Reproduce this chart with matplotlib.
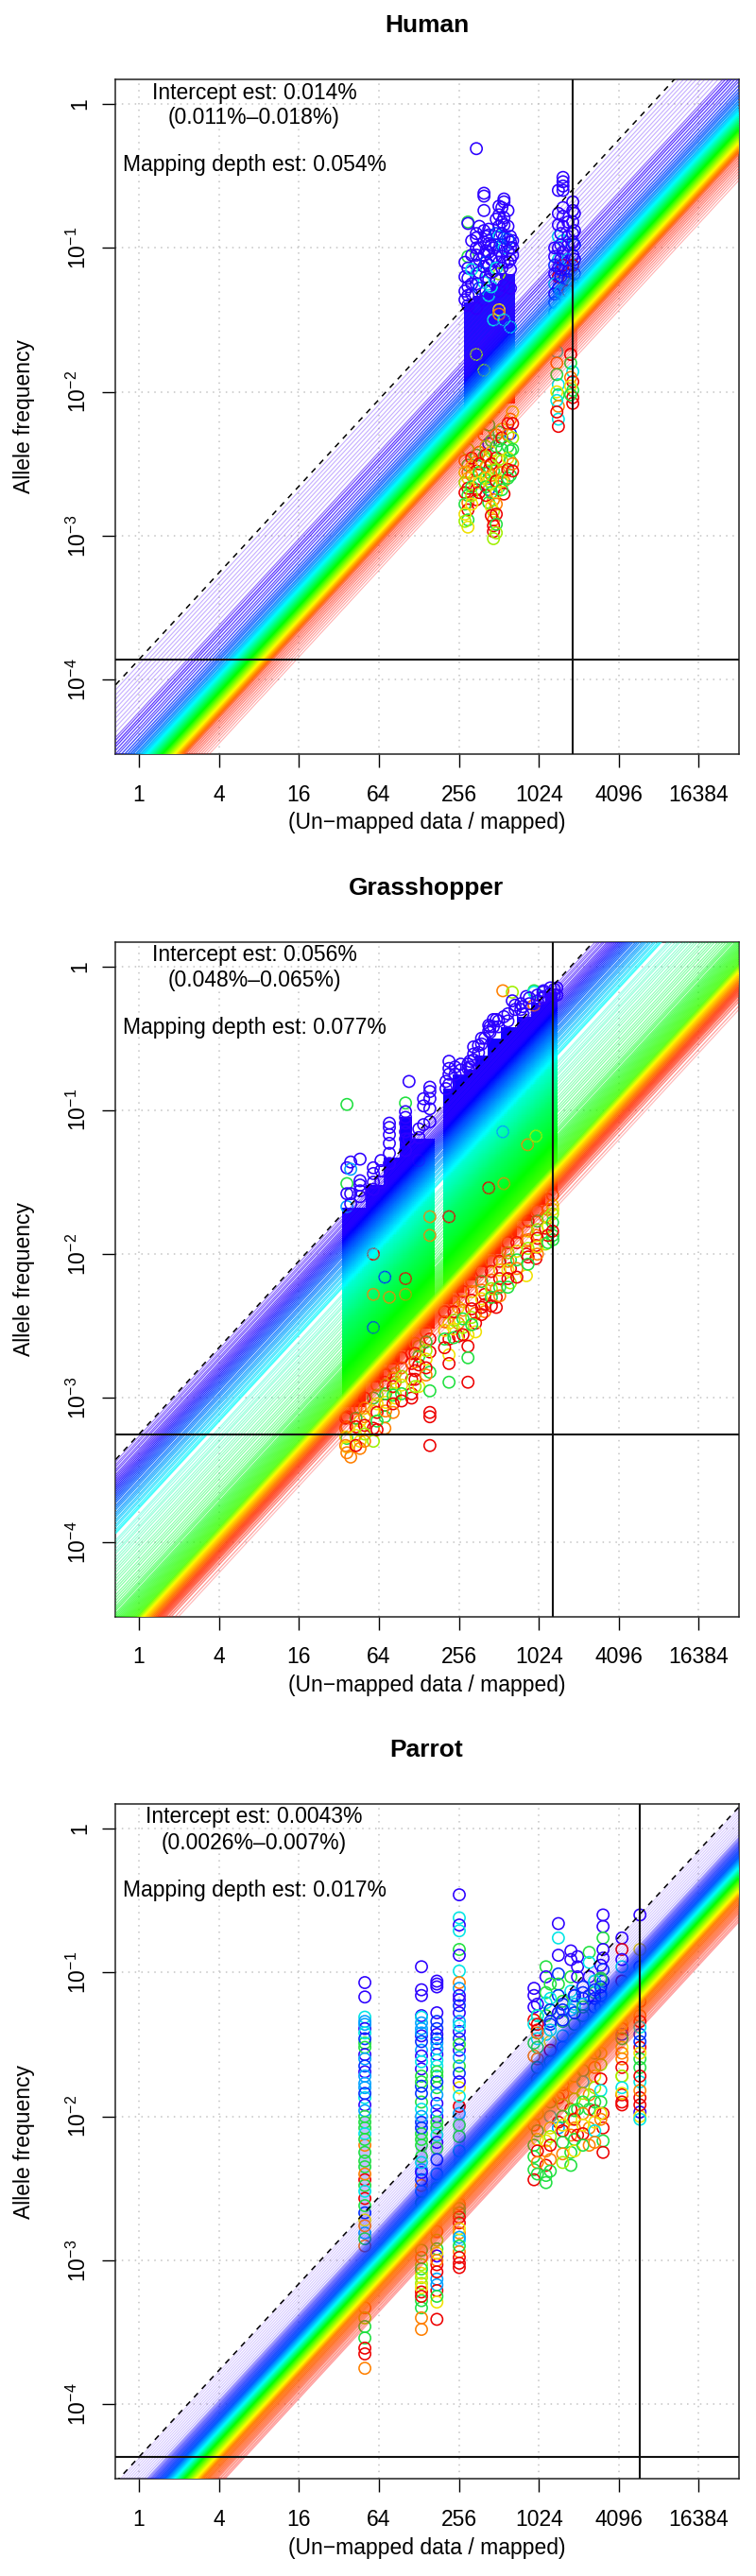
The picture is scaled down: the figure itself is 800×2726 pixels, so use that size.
import colorsys
import numpy as np
import matplotlib
matplotlib.use('Agg')
import matplotlib.pyplot as plt

plt.rcParams['font.family'] = ['Liberation Sans', 'DejaVu Sans']
plt.rcParams['mathtext.default'] = 'regular'

panel_titles = ['Human', 'Grasshopper', 'Parrot']
x_ticks = [1, 4, 16, 64, 256, 1024, 4096, 16384]
y_ticks = [1e-4, 1e-3, 1e-2, 1e-1, 1]
y_tick_labels = ['$10^{-4}$', '$10^{-3}$', '$10^{-2}$', '$10^{-1}$', '1']

intercepts = [1.38e-4, 5.6e-4, 4.3e-5]
depth_marks = [1850, 1300, 5900]
intercept_text = ['Intercept est: 0.014%', 'Intercept est: 0.056%', 'Intercept est: 0.0043%']
range_text = ['(0.011%\u20130.018%)', '(0.048%\u20130.065%)', '(0.0026%\u20130.007%)']
depth_text = ['Mapping depth est: 0.054%', 'Mapping depth est: 0.077%', 'Mapping depth est: 0.017%']

# variant lines, log10 distance below the dashed line
human_lines = [0.035, 0.07, 0.1, 0.135, 0.165, 0.2, 0.23, 0.265, 0.295, 0.33, 0.365, 0.385, 0.41, 0.43, 0.455,
               0.48, 0.5, 0.525, 0.55, 0.572, 0.592, 0.61, 0.632, 0.651, 0.672, 0.69, 0.705, 0.718, 0.731,
               0.743, 0.755, 0.767, 0.779, 0.791, 0.803, 0.815, 0.827, 0.839, 0.851, 0.863, 0.875, 0.887, 0.899,
               0.911, 0.923, 0.935, 0.947, 0.959, 0.971, 0.983, 0.995, 1.01, 1.028, 1.046, 1.064, 1.082, 1.102,
               1.122, 1.142, 1.163, 1.186]
grass_lines = [0.015, 0.035, 0.05, 0.07, 0.085, 0.105, 0.12, 0.135, 0.15, 0.165, 0.18, 0.195, 0.21, 0.225, 0.24,
               0.255, 0.27, 0.285, 0.30, 0.32, 0.335, 0.35, 0.37, 0.385, 0.40, 0.42, 0.435, 0.455, 0.47, 0.49,
               0.505, 0.515, 0.56, 0.575, 0.595, 0.62, 0.64, 0.655, 0.68, 0.70, 0.72, 0.745, 0.765, 0.785, 0.81,
               0.83, 0.85, 0.875, 0.895, 0.915, 0.94, 0.96, 0.98, 1.0, 1.02, 1.035, 1.05, 1.07, 1.085, 1.1, 1.115,
               1.13, 1.145, 1.16, 1.175, 1.19, 1.205, 1.22, 1.235, 1.25, 1.262, 1.274, 1.286, 1.298, 1.31, 1.322,
               1.334, 1.346, 1.358, 1.37, 1.382, 1.396, 1.41, 1.425, 1.44, 1.455, 1.47, 1.49, 1.51, 1.54, 1.565]
parrot_lines = [0.012, 0.03, 0.05, 0.07, 0.09, 0.11, 0.13, 0.15, 0.17, 0.19, 0.21, 0.222,
                0.235, 0.246, 0.258, 0.27, 0.281, 0.293, 0.305, 0.316, 0.328, 0.34, 0.35, 0.36, 0.37, 0.38, 0.39,
                0.4, 0.41, 0.42, 0.43, 0.44, 0.45, 0.46, 0.47, 0.48, 0.49, 0.5, 0.51, 0.52, 0.53, 0.54, 0.55,
                0.56, 0.57, 0.58, 0.59, 0.6, 0.61, 0.62, 0.63, 0.642, 0.655, 0.668, 0.68, 0.695, 0.71, 0.725,
                0.74, 0.76, 0.78, 0.797]

# rainbow position, opacity and width along the fan
human_stops = [0, 0.33, 0.40, 0.5, 0.55, 0.62, 0.72, 0.84, 0.93, 0.97, 1.02, 1.19]
human_hue = [0.715, 0.715, 0.70, 0.68, 0.64, 0.6, 0.5, 0.33, 0.17, 0.1, 0.02, 0.0]
human_alpha = [0.32, 0.32, 0.8, 0.65, 0.75, 0.85, 1, 1, 1, 1, 0.6, 0.3]
human_width = [1.1, 1.1, 1.3, 1.3, 1.5, 1.8, 2.3, 2.4, 2.4, 2.4, 1.5, 1.1]
grass_stops = [0, 0.155, 0.27, 0.51, 0.55, 0.8, 1.0, 1.25, 1.31, 1.42, 1.57]
grass_hue = [0.71, 0.69, 0.62, 0.5, 0.47, 0.4, 0.36, 0.29, 0.16, 0.03, 0.0]
grass_alpha = [0.5, 0.8, 0.85, 0.72, 0.4, 0.45, 0.5, 0.8, 1, 0.8, 0.25]
grass_width = [1.1, 1.3, 1.4, 1.3, 1.1, 1.1, 1.3, 2.0, 2.4, 2.0, 1.2]
parrot_stops = [0, 0.175, 0.35, 0.425, 0.5, 0.59, 0.63, 0.8]
parrot_hue = [0.715, 0.70, 0.61, 0.5, 0.33, 0.16, 0.08, 0.0]
parrot_alpha = [0.2, 0.24, 0.9, 1, 1, 1, 0.8, 0.35]
parrot_width = [1.0, 1.1, 2.2, 2.4, 2.4, 2.4, 2.2, 1.6]

# solid parts of the clouds, too dense to read one by one: x edges and log10 top / bottom per cell
human_core_x = [279, 330, 390, 450, 520, 680, 1307, 2005]
human_core_top = [-1.38, -1.33, -1.30, -1.25, -1.18, -1.05, -1.07]
human_core_bot = [-2.35, -2.30, -2.22, -2.15, -2.08, -2.00, -1.72]
human_core_alpha = [0.95, 0.95, 0.95, 0.95, 0.95, 0.0, 0.35]
grass_core_x = [33.9, 51, 70, 92, 114, 169, 196, 230, 280, 340, 420, 530, 700, 900, 1150, 1419]
grass_core_top = [-1.68, -1.52, -1.33, -1.05, -1.20, -1.21, -0.85, -0.75, -0.72, -0.62, -0.50, -0.42, -0.35, -0.25, -0.18]
grass_core_bot = [-3.06, -2.89, -2.77, -2.67, -2.52, -2.45, -2.35, -2.27, -2.18, -2.09, -2.0, -1.88, -1.77, -1.66, -1.56]
grass_core_alpha = [1, 1, 1, 1, 1, 0, 1, 1, 1, 1, 1, 1, 1, 1, 1]
parrot_core_x = [45.5, 55.5, 122, 148, 158, 192, 234, 286]
parrot_core_top = [-2.0, -2.0, -2.0, -2.0, -2.0, -2.0, -1.9]
parrot_core_bot = [-2.85, -2.85, -2.85, -2.85, -2.85, -2.85, -2.6]
parrot_core_alpha = [0.25, 0.0, 0.25, 0.0, 0.25, 0.0, 0.25]

# single circles: x of each column, log10 allele frequency, colour band of each circle
human_x = [300, 347, 396, 430, 467, 514, 560, 626, 1438, 1558, 1846,
           285, 320, 365, 410, 450, 490, 540, 600, 650,
           285, 320, 365, 410, 450, 490, 540, 600, 650,
           1350, 1500, 1700, 1900, 1400, 1780]
human_y = [[-0.82, -0.83, -1.06, -1.14, -1.21, -1.27, -1.33, -1.40, -2.40, -2.51, -2.56, -2.60, -2.67, -2.72, -2.77, -2.82, -2.89, -2.94],
           [-0.31, -0.90, -0.93, -1.00, -1.05, -1.12, -1.18, -1.25, -1.42, -1.74, -2.44, -2.49, -2.55, -2.62, -2.68, -2.75],
           [-0.62, -0.64, -0.74, -0.88, -0.96, -1.05, -1.13, -1.24, -1.36, -1.85, -2.30, -2.45, -2.60],
           [-0.87, -0.91, -0.97, -1.03, -1.12, -1.22, -1.33, -2.23, -2.36, -2.47, -2.56, -2.62, -2.68, -2.77],
           [-1.0, -1.16, -1.5, -2.55, -2.75, -2.83, -2.89, -2.93, -2.97, -3.02],
           [-0.71, -0.77, -0.85, -0.92, -1.02, -1.10, -1.18, -1.30, -1.43, -1.46, -2.28, -2.34, -2.47, -2.56, -2.66],
           [-0.66, -0.68, -0.79, -0.84, -0.93, -1.0, -1.10, -1.26, -1.50, -2.62, -2.71],
           [-0.92, -0.96, -1.0, -1.08, -1.15, -1.28, -1.55, -2.19, -2.29, -2.41, -2.48, -2.58],
           [-0.60, -0.76, -0.84, -0.92, -1.0, -1.08, -1.14, -1.2, -1.28, -1.95, -2.02, -2.10, -2.19, -2.24],
           [-0.51, -0.54, -0.57, -0.60, -0.72, -0.78, -0.85, -0.95, -1.03, -1.12, -1.22, -1.32],
           [-0.68, -0.74, -0.82, -0.9, -0.96, -1.05, -1.12, -1.25, -1.86, -1.93, -1.99, -2.04, -2.08],
           [-2.48, -2.56, -2.63, -2.7, -2.78, -2.85, -2.9],
           [-2.46, -2.52, -2.58, -2.66, -2.72, -2.78],
           [-2.42, -2.5, -2.56, -2.63, -2.7],
           [-2.38, -2.44, -2.52, -2.6, -2.66, -2.72],
           [-2.34, -2.42, -2.5, -2.58, -2.64, -2.7, -2.8, -2.86],
           [-2.3, -2.38, -2.46, -2.54, -2.62, -2.7, -2.78, -2.85, -2.92, -2.98],
           [-2.26, -2.32, -2.4, -2.48, -2.56, -2.62, -2.68],
           [-2.22, -2.3, -2.38, -2.46, -2.54, -2.6],
           [-2.14, -2.22, -2.32, -2.4, -2.5, -2.55],
           [-1.1, -1.2, -1.3, -1.36],
           [-0.95, -1.05, -1.15, -1.25, -1.32],
           [-0.85, -1.0, -1.08, -1.17, -1.28],
           [-0.92, -1.02, -1.1, -1.2, -1.3],
           [-0.98, -1.08, -1.17, -1.27],
           [-0.8, -0.9, -0.98, -1.06, -1.14, -1.22],
           [-0.72, -0.82, -0.9, -0.98, -1.06, -1.14],
           [-0.74, -0.85, -0.94, -1.02, -1.1],
           [-0.95, -1.0, -1.05],
           [-1.0, -1.06, -1.12, -1.18, -1.25, -1.32, -1.38, -1.45],
           [-0.9, -0.98, -1.08, -1.15, -1.2, -1.3, -1.42],
           [-0.82, -0.92, -0.98, -1.08, -1.16, -1.22, -1.3, -1.4],
           [-0.76, -0.88, -0.98, -1.08, -1.18, -1.28, -1.36],
           [-1.72, -1.8, -1.88, -2.0, -2.06, -2.14],
           [-1.74, -1.8, -1.9, -1.96, -2.02]]
human_c = ['gvgvvvvvlgoyrgorgy', 'vvvvvvcvvlgyrorr', 'vvvvvvvcvlogg', 'vvvvvvcgvlgybg', 'vvcgolorrl',
           'vvvcvvlvyogglog', 'vvvvvcvvcor', 'vvvvvvcobggg', 'vvvcvcvrbcgocr', 'vvvvvvvcvroc', 'vvvvvvrgcrgrr',
           'oylrgyl', 'ryogly', 'orgyr', 'lroygr', 'gyrolgyr', 'ogrlryorgl', 'yrgloyg', 'rogyrg', 'yrlgor',
           'vvvv', 'vvcvv', 'vvvvb', 'vvbvv', 'vvvc', 'vbvvcv', 'vvvbvv', 'vvbvv', 'vvv',
           'vvbvcvbb', 'vvvbvcv', 'vvvcvvrb', 'vvbvvcv', 'cogycr', 'rgoyg']

grass_x = [36.8, 39.3, 46.2, 58.2, 66.4, 71, 76.8, 85, 101.6, 108, 113, 128, 139, 155, 216, 254, 300, 331, 342,
           402, 430, 466, 490, 549, 559, 626, 647, 776, 826, 843, 943, 975, 1113, 1150, 1307, 1340,
           36, 43, 50, 62, 72, 82, 95, 120, 145, 200, 235, 275, 320, 380, 450, 520, 600, 700, 850, 1000, 1200, 1300,
           205, 240, 265, 310, 360, 380, 440, 510, 600, 680, 750, 870, 1000, 1100, 1250, 1400]
grass_y = [[-0.96, -1.40, -1.51, -1.58, -1.67, -3.13, -3.20, -3.28, -3.34, -3.38],
           [-1.36, -1.41, -1.58, -1.65, -3.41],
           [-1.34, -1.49, -1.52, -1.56, -1.60, -3.07, -3.16, -3.22, -3.30, -3.35],
           [-1.40, -1.44, -1.50, -1.55, -2.0, -2.28, -2.51, -3.00, -3.09, -3.21, -3.30],
           [-1.35, -1.42, -1.5],
           [-2.16, -2.83, -2.89, -3.05, -3.13, -3.21],
           [-1.09, -1.12, -1.17, -1.23, -1.30, -1.37, -2.30],
           [-2.83, -2.89, -2.97, -3.00],
           [-0.95, -1.01, -1.05, -1.09, -1.15, -1.20, -1.28, -2.17, -2.28],
           [-0.80, -1.2],
           [-2.69, -2.76, -2.87, -2.97, -3.00],
           [-1.13, -1.19, -1.35, -2.64, -2.71, -2.77, -2.92],
           [-0.92, -0.97, -1.1],
           [-0.84, -0.87, -0.92, -0.99, -1.08, -1.74, -1.87, -2.59, -2.68, -2.82, -2.95, -3.10, -3.13, -3.33],
           [-0.66, -0.71, -0.75, -0.82, -1.74, -2.48, -2.59, -2.70, -2.76, -2.89],
           [-2.37, -2.48, -2.57],
           [-0.68, -0.71, -2.56, -2.64, -2.72, -2.89],
           [-0.56, -0.61, -0.65],
           [-2.41, -2.48, -2.54],
           [-0.50, -2.28, -2.35, -2.40],
           [-0.41, -0.45, -1.54],
           [-0.37, -0.42],
           [-0.37, -2.24, -2.30, -2.37],
           [-0.17, -1.15],
           [-0.35, -1.51],
           [-2.04, -2.10, -2.20],
           [-0.18, -0.24],
           [-0.28, -0.33],
           [-0.21, -1.91, -2.0, -2.15],
           [-1.24],
           [-0.17, -0.18, -0.27],
           [-1.18, -1.87, -1.94, -2.03],
           [-0.17, -0.21],
           [-1.74, -1.82, -1.93],
           [-1.69, -1.87, -1.90],
           [-0.16, -0.2],
           [-3.14, -3.21, -3.27, -3.33],
           [-3.07, -3.14, -3.2, -3.26, -3.33],
           [-3.0, -3.07, -3.13, -3.19, -3.25, -3.3],
           [-2.91, -2.98, -3.04, -3.10, -3.16, -3.22],
           [-2.84, -2.91, -2.97, -3.03, -3.09],
           [-2.79, -2.86, -2.92, -2.98, -3.04, -3.1],
           [-2.72, -2.79, -2.85, -2.91, -2.97, -3.02],
           [-2.62, -2.69, -2.75, -2.81, -2.87, -2.92],
           [-2.54, -2.61, -2.67, -2.73, -2.79, -2.84],
           [-2.40, -2.47, -2.53, -2.59, -2.65],
           [-2.33, -2.4, -2.46, -2.52, -2.58],
           [-2.26, -2.33, -2.39, -2.45, -2.51, -2.56],
           [-2.19, -2.26, -2.32, -2.38, -2.44, -2.49],
           [-2.12, -2.19, -2.25, -2.31, -2.37, -2.42],
           [-2.05, -2.12, -2.18, -2.24, -2.30, -2.36],
           [-1.98, -2.05, -2.11, -2.17, -2.23, -2.29],
           [-1.92, -1.99, -2.05, -2.11, -2.17, -2.23],
           [-1.85, -1.92, -1.98, -2.04, -2.1, -2.16],
           [-1.77, -1.84, -1.9, -1.96, -2.02, -2.07],
           [-1.70, -1.77, -1.83, -1.89, -1.95, -2.0],
           [-1.62, -1.69, -1.75, -1.81, -1.87, -1.92],
           [-1.59, -1.66, -1.72, -1.78, -1.84],
           [-0.8, -0.85], [-0.7, -0.75], [-0.72, -0.68], [-0.66, -0.7], [-0.55, -0.6], [-0.5, -0.54],
           [-0.46, -0.42], [-0.42, -0.38], [-0.33, -0.38], [-0.3, -0.27], [-0.26, -0.3], [-0.22, -0.26],
           [-0.2, -0.24], [-0.18, -0.22], [-0.15, -0.19], [-0.15, -0.2]]
grass_c = ['gvgvarogyo', 'vavvo', 'vvvvvoyyyo', 'vvvvrobgyrl', 'vvv', 'borrgo', 'vvvvvvo', 'loly', 'gvvvvvvro',
           'vv', 'rrrrr', 'vvvlgry', 'vvv', 'vvvvvoorrggrrr', 'vvvvryryrg', 'yor', 'vvyrgr', 'vvv', 'ory', 'vrro',
           'vvr', 'vv', 'vorr', 'oa', 'vo', 'grl', 'lv', 'vv', 'vory', 'o', 'gco', 'lorr', 'vv', 'orl', 'ygg', 'vv',
           'royo', 'ogryr', 'ryorlo', 'olyrgr', 'rlgyo', 'oyrgro', 'rolygr', 'yrorrl', 'oglyro', 'roygr', 'orlyg',
           'ryoglr', 'oyrrlg', 'rgoyrr', 'yrolgr', 'oryrgo', 'rloyrg', 'orygor', 'ryolrg', 'oglryo', 'rolyrg', 'oylgr',
           'vv', 'vv', 'vv', 'vv', 'vv', 'vv', 'vv', 'vv', 'vv', 'vv', 'vv', 'vv', 'vv', 'vv', 'vv', 'vv']

parrot_x = [50.2, 134, 175, 258, 943, 1160, 1438, 1786, 2005, 2455, 3120, 4330, 5914,
            50.2, 134, 175, 258,
            1000, 1250, 1550, 1900, 2200, 2700, 3000, 4330, 5914,
            1000, 1250, 1550, 1900, 2200, 2700, 3000]
parrot_y = [[-1.07, -1.17, -1.31, -1.34, -1.39, -1.49, -1.57, -1.69, -1.77, -1.87, -1.92, -2.0, -2.08, -2.20, -2.31, -2.44, -2.48, -2.57, -2.67, -2.81, -2.90, -3.33, -3.40, -3.46, -3.54, -3.61, -3.65, -3.75],
            [-0.96, -1.12, -1.16, -1.30, -1.31, -1.39, -1.44, -1.54, -1.67, -1.72, -1.79, -1.90, -1.95, -2.04, -2.12, -2.28, -2.37, -2.39, -2.48, -2.93, -3.03, -3.09, -3.16, -3.22, -3.28, -3.33, -3.40, -3.48],
            [-1.06, -1.08, -1.10, -1.28, -1.39, -1.43, -1.49, -1.57, -1.65, -1.72, -1.80, -1.91, -2.0, -2.08, -2.18, -2.80, -2.92, -2.97, -3.03, -3.13, -3.21, -3.29, -3.41],
            [-0.46, -0.62, -0.67, -0.71, -0.84, -0.88, -0.99, -1.07, -1.11, -1.19, -1.28, -1.41, -1.54, -1.65, -1.80, -1.93, -2.61, -2.67, -2.74, -2.81, -2.86, -2.94, -3.02, -3.05],
            [-1.11, -1.16, -1.24, -1.33, -1.36, -1.49, -1.58, -2.06, -2.20, -2.28, -2.37, -2.44],
            [-0.96, -1.03, -1.14, -1.21, -1.30, -1.43, -2.17, -2.24, -2.34, -2.41, -2.46],
            [-0.66, -0.76, -0.88, -1.01, -1.08, -1.16, -1.28, -1.87, -2.04, -2.08],
            [-0.85, -0.91, -1.03, -1.13, -1.26, -1.95, -2.02, -2.13, -2.25, -2.34],
            [-0.89, -0.96, -1.03, -1.95, -2.13],
            [-0.86, -0.93, -1.03, -1.16, -1.85, -1.95, -2.08, -2.20],
            [-0.60, -0.68, -0.76, -0.84, -0.90, -0.98, -1.06, -1.98, -2.08, -2.17, -2.25],
            [-0.76, -0.84, -0.91, -1.39, -1.43, -1.52, -1.60, -1.72, -1.85, -1.92],
            [-0.60, -0.84, -1.30, -1.34, -1.43, -1.52, -1.60, -1.76, -1.87, -1.97, -2.0],
            [-1.36, -1.42, -1.46, -1.52, -1.6, -1.65, -1.72, -1.8, -1.84, -1.96, -2.04, -2.12, -2.16, -2.25, -2.35, -2.4, -2.52, -2.62, -2.72, -2.76, -2.85],
            [-1.35, -1.42, -1.48, -1.58, -1.62, -1.76, -1.84, -2.0, -2.08, -2.16, -2.2, -2.32, -2.44, -2.52, -2.6, -2.98, -3.06, -3.12, -3.19, -3.25],
            [-1.34, -1.46, -1.53, -1.61, -1.69, -1.76, -1.85, -1.96, -2.04, -2.13, -2.22, -2.3, -2.4, -2.5, -2.86, -2.95, -3.0, -3.08, -3.17, -3.25],
            [-1.16, -1.23, -1.34, -1.37, -1.46, -1.5, -1.59, -1.7, -1.76, -1.86, -1.98, -2.06, -2.14, -2.24, -2.36, -2.48, -2.64, -2.7, -2.78, -2.84, -2.9, -2.98],
            [-1.22, -1.3, -1.4, -1.46, -1.52, -1.6, -1.66, -1.74, -1.82, -1.98, -2.1, -2.16, -2.24, -2.32, -2.4],
            [-1.08, -1.18, -1.26, -1.36, -1.48, -1.54, -1.62, -1.72, -1.9, -2.0, -2.08, -2.14, -2.2, -2.3, -2.38],
            [-1.22, -1.34, -1.44, -1.52, -1.6, -1.68, -1.78, -1.84, -1.92, -2.0, -2.06, -2.1, -2.18, -2.26, -2.32],
            [-1.16, -1.24, -1.36, -1.46, -1.56, -1.64, -1.72, -1.8, -1.88, -1.96, -2.02, -2.08, -2.16, -2.24],
            [-1.14, -1.22, -1.3, -1.42, -1.5, -1.58, -1.68, -1.76, -1.84, -1.9, -1.98, -2.06, -2.12, -2.2],
            [-1.06, -1.14, -1.24, -1.34, -1.46, -1.56, -1.66, -1.72, -1.8, -1.9, -1.96, -2.04, -2.1, -2.18],
            [-0.95, -1.05, -1.14, -1.24, -1.34, -1.44, -1.56, -1.64, -1.74, -1.82, -1.9, -1.98, -2.02],
            [-0.96, -1.06, -1.2, -1.28, -1.36, -1.46, -1.56, -1.66, -1.72, -1.8, -1.84, -1.9],
            [-0.96, -1.08, -1.2, -1.38, -1.48, -1.56, -1.66, -1.72, -1.82, -1.92, -2.02],
            [-1.3, -1.36, -1.42],
            [-1.26, -1.34, -1.4],
            [-1.2, -1.26, -1.33],
            [-1.16, -1.22, -1.28],
            [-1.1, -1.18, -1.24],
            [-1.06, -1.12, -1.18],
            [-1.04, -1.1, -1.16]]
parrot_c = ['vvcavgvvacvggogrgrbaoolggrro', 'vvvvcavavgbgcbggavoglylrggoo', 'vvvvbvavcggvvgvogvraryr',
            'vcvcgvcoavvvvgyrogrocorr', 'vvvrcgoogggr', 'gvgcgcyorgg', 'vcvbgbvrra', 'vvgcaryogg', 'vvvgr',
            'gcvvogoo', 'vvgvvbbrrgr', 'vrvrbyoyrr', 'vyorbrgcrvy',
            'acbgabaabagcgggocgyog', 'aabvcgbabggcbagoglyr', 'bbacgbaagcgbaglyoragy', 'vbacbgabvcaggcolgryagr',
            'vgrcgogorlgyrog', 'gcgbyrgogcylrog', 'bgcabgrolgyrgol', 'vcgyorgylgrogyl', 'bcgyrogclgoyrg',
            'cgbyrgoylgrycog', 'vgcbogylrcgyog', 'crovygorlcyrg', 'vorcbygrorco', 'crogbyrgcoyr',
            'bbc', 'gbb', 'bcb', 'bbg', 'cbb', 'gbb', 'bcb']

band_colors = {'v': '#2c00ff', 'b': '#0030ff', 'a': '#00a0ff', 'c': '#00e5e5', 'g': '#20e040',
               'l': '#a0f000', 'y': '#f0e000', 'o': '#ff8000', 'r': '#ee0000'}


def rainbow(hue):
    return colorsys.hsv_to_rgb(hue, 1, 1)


def draw_core(ax, core_x, top, bot, alphas, k, stops, hues):
    # colour of the solid cloud follows the distance from the dashed line, like the fan
    for i in range(len(core_x) - 1):
        if alphas[i] == 0:
            continue
        xe = np.geomspace(core_x[i], core_x[i + 1], 13)
        ye = np.linspace(bot[i], top[i], 121)
        xm = np.sqrt(xe[:-1] * xe[1:])
        ym = 0.5 * (ye[:-1] + ye[1:])
        d = np.log10(k) + np.log10(xm)[None, :] - ym[:, None]
        h = np.minimum(np.interp(d, stops, hues), 0.68)
        rgba = np.zeros(h.shape + (4,))
        for r in range(h.shape[0]):
            for c in range(h.shape[1]):
                rgba[r, c, :3] = rainbow(h[r, c])
        rgba[:, :, 3] = alphas[i]
        ax.pcolormesh(xe, 10.0 ** ye, rgba, zorder=2, shading='flat', linewidth=0, rasterized=True)


all_lines = [human_lines, grass_lines, parrot_lines]
all_stops = [human_stops, grass_stops, parrot_stops]
all_hue = [human_hue, grass_hue, parrot_hue]
all_alpha = [human_alpha, grass_alpha, parrot_alpha]
all_width = [human_width, grass_width, parrot_width]
all_core = [(human_core_x, human_core_top, human_core_bot, human_core_alpha),
            (grass_core_x, grass_core_top, grass_core_bot, grass_core_alpha),
            (parrot_core_x, parrot_core_top, parrot_core_bot, parrot_core_alpha)]
all_x = [human_x, grass_x, parrot_x]
all_y = [human_y, grass_y, parrot_y]
all_c = [human_c, grass_c, parrot_c]

W, H = 800, 2726
fig = plt.figure(figsize=(W / 100, H / 100), dpi=100)
xlim = (0.668, 32768)
ylim = (3.04e-5, 1.483)
tops = [84, 996.5, 1909]

for p in range(3):
    top = tops[p]
    ax = fig.add_axes([122.4 / W, 1 - (top + 714) / H, (781.7 - 122.4) / W, 714 / H])
    ax.set_xscale('log', base=2)
    ax.set_yscale('log')
    ax.set_xlim(xlim)
    ax.set_ylim(ylim)
    ax.minorticks_off()

    ax.set_xticks(x_ticks)
    ax.set_xticklabels([str(t) for t in x_ticks], fontsize=16.5)
    ax.set_yticks(y_ticks)
    ax.set_yticklabels(y_tick_labels, fontsize=16.5, rotation=90, va='center')
    ax.tick_params(axis='x', length=10, width=1, pad=13, which='major')
    ax.tick_params(axis='y', length=10, width=1, pad=9, which='major')
    ax.grid(True, color='#c4c4c4', linestyle=(0, (1, 3.5)), linewidth=1.1, zorder=1)
    ax.set_axisbelow(True)
    for s in ax.spines.values():
        s.set_linewidth(1.1)
        s.set_color('#222222')

    k = intercepts[p]
    core_x, core_top, core_bot, core_alpha = all_core[p]
    draw_core(ax, core_x, core_top, core_bot, core_alpha, k, all_stops[p], all_hue[p])

    # circles
    for cx, cy, cc in zip(all_x[p], all_y[p], all_c[p]):
        cols = [band_colors[cc[i % len(cc)]] for i in range(len(cy))]
        ax.scatter([cx] * len(cy), 10.0 ** np.array(cy), s=78, facecolors='none', edgecolors=cols,
                   linewidths=1.15, zorder=3)

    # fan of variant lines, blue side drawn first
    ends = np.array(xlim)
    for d in all_lines[p]:
        hue = np.interp(d, all_stops[p], all_hue[p])
        alpha = np.interp(d, all_stops[p], all_alpha[p])
        lw = np.interp(d, all_stops[p], all_width[p])
        ax.plot(ends, k * 10.0 ** (-d) * ends, color=rainbow(hue), alpha=alpha, linewidth=lw * 0.72,
                zorder=4, solid_capstyle='butt')

    ax.plot(ends, k * ends, color='black', linestyle=(0, (4, 4)), linewidth=1.1, zorder=5)
    ax.axhline(k, color='#111111', linewidth=1.5, zorder=6)
    ax.axvline(depth_marks[p], color='#111111', linewidth=1.5, zorder=6)

    fig.text(451.5 / W, 1 - (top - 57) / H, panel_titles[p], fontsize=19, fontweight='bold', ha='center', va='center')
    fig.text(269 / W, 1 - (top + 14) / H, intercept_text[p], fontsize=16.5, ha='center', va='center')
    fig.text(269 / W, 1 - (top + 41) / H, range_text[p], fontsize=16.5, ha='center', va='center')
    fig.text(269 / W, 1 - (top + 91) / H, depth_text[p], fontsize=16.5, ha='center', va='center')
    fig.text(451.5 / W, 1 - (top + 787) / H, '(Un\u2212mapped data / mapped)', fontsize=16.5, ha='center', va='center')
    fig.text(26 / W, 1 - (top + 357) / H, 'Allele frequency', fontsize=16.5, rotation=90, ha='center', va='center')

fig.savefig('out.png', dpi=100)
